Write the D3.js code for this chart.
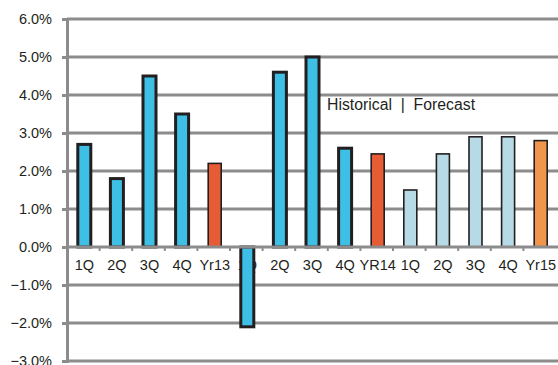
<!DOCTYPE html>
<html>
<head>
<meta charset="utf-8">
<script src="https://cdn.jsdelivr.net/npm/d3@7"></script>
<style>
  html, body { margin: 0; padding: 0; background: #fff; }
  svg { display: block; }
  text { font-family: "Liberation Sans", Arial, sans-serif; fill: #231f20; }
</style>
</head>
<body>
<svg id="chart" width="558" height="365"></svg>
<script>
// Quarterly growth, 2013–2015 (per cent)
const categories = ["1Q", "2Q", "3Q", "4Q", "Yr13", "1Q", "2Q", "3Q", "4Q", "YR14", "1Q", "2Q", "3Q", "4Q", "Yr15"];
const growth = [2.7, 1.8, 4.5, 3.5, 2.2, -2.1, 4.6, 5.0, 2.6, 2.45, 1.5, 2.45, 2.9, 2.9, 2.8];
// kind of each period: quarter / annual, historical / forecast
const kinds = ["hq", "hq", "hq", "hq", "hy", "hq", "hq", "hq", "hq", "hy", "fq", "fq", "fq", "fq", "fy"];
const yTicks = [-3, -2, -1, 0, 1, 2, 3, 4, 5, 6];
const dividerLabel = "Historical  |  Forecast";

const fills = { hq: "#3dbfe6", hy: "#e65c35", fq: "#b6dbe6", fy: "#f0954c" };
const strokeW = { hq: 3, hy: 1.6, fq: 1.6, fy: 1.6 };

const svg = d3.select("#chart");
const plotLeft = 67, plotRight = 556, plotTop = 19, plotBottom = 361;

const y = d3.scaleLinear().domain([-3, 6]).range([plotBottom, plotTop]);
const x = d3.scaleBand().domain(d3.range(categories.length)).range([plotLeft, plotRight]).paddingInner(0).paddingOuter(0);

const grid = "#8c8c8c";

// horizontal gridlines
svg.append("g").selectAll("line").data(yTicks.filter(d => d !== 0)).join("line")
  .attr("x1", plotLeft).attr("x2", plotRight + 2)
  .attr("y1", d => y(d)).attr("y2", d => y(d))
  .attr("stroke", grid).attr("stroke-width", 3);

// y axis
const yAxis = svg.append("g").attr("transform", `translate(${plotLeft},0)`)
  .call(d3.axisLeft(y).tickValues(yTicks).tickSize(5).tickPadding(10).tickFormat(d => d3.format(".1f")(d) + "%"));
yAxis.select(".domain").attr("stroke", grid).attr("stroke-width", 3);
yAxis.selectAll(".tick line").attr("stroke", grid).attr("stroke-width", 3);
yAxis.selectAll(".tick text").attr("font-size", 14.5).attr("fill", "#231f20")
  .attr("font-family", "Liberation Sans, Arial, sans-serif");

// category labels under the zero line (bars drawn on top of them)
svg.append("g").selectAll("text").data(categories).join("text")
  .attr("x", (d, i) => x(i) + x.bandwidth() / 2 + 1)
  .attr("y", y(0) + 23)
  .attr("text-anchor", "middle")
  .attr("font-size", 14.5)
  .text(d => d);

// bars
const barW = 13;
svg.append("g").selectAll("rect").data(growth).join("rect")
  .attr("x", (d, i) => x(i) + x.bandwidth() / 2 - barW / 2 + 1)
  .attr("y", d => y(Math.max(0, d)))
  .attr("width", barW)
  .attr("height", d => Math.abs(y(d) - y(0)))
  .attr("fill", (d, i) => fills[kinds[i]])
  .attr("stroke", "#231f20")
  .attr("stroke-width", (d, i) => strokeW[kinds[i]]);

// zero line with tick marks at band boundaries
svg.append("line")
  .attr("x1", plotLeft).attr("x2", plotRight + 2)
  .attr("y1", y(0)).attr("y2", y(0))
  .attr("stroke", grid).attr("stroke-width", 3);
svg.append("g").selectAll("line").data(d3.range(1, categories.length)).join("line")
  .attr("x1", i => x(i)).attr("x2", i => x(i))
  .attr("y1", y(0)).attr("y2", y(0) + 4)
  .attr("stroke", grid).attr("stroke-width", 2);

// divider note
svg.append("text")
  .attr("x", 327).attr("y", 110)
  .attr("font-size", 15.8)
  .attr("xml:space", "preserve")
  .style("white-space", "pre")
  .text(dividerLabel);
</script>
</body>
</html>
